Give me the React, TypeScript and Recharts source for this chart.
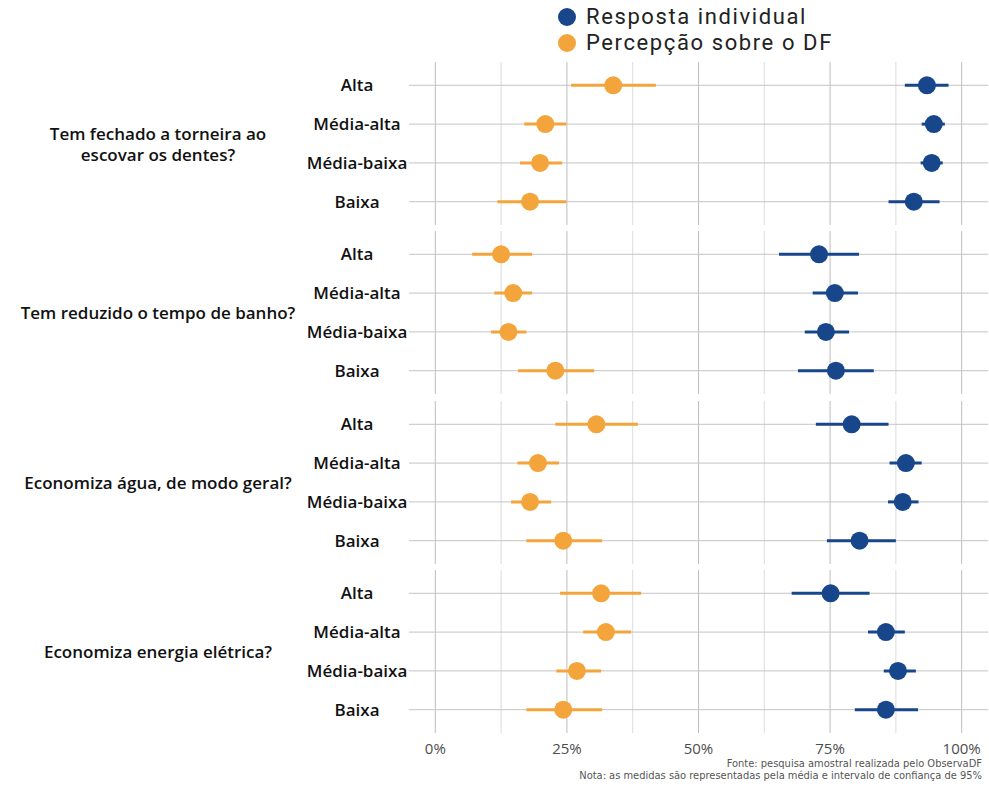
import React from "react";
import {
  ScatterChart,
  Scatter,
  XAxis,
  YAxis,
  ErrorBar,
  ReferenceLine,
} from "recharts";

const categories = ["Alta", "Média-alta", "Média-baixa", "Baixa"];
const questions = [
  ["Tem fechado a torneira ao", "escovar os dentes?"],
  ["Tem reduzido o tempo de banho?"],
  ["Economiza água, de modo geral?"],
  ["Economiza energia elétrica?"],
];
const xTicks = [0, 25, 50, 75, 100];
const xMinor = [12.5, 37.5, 62.5, 87.5];

// Resposta individual (mean, low, high) per question, per category
const individualMean = [
  [93.4, 94.7, 94.3, 90.9],
  [72.9, 75.9, 74.2, 76.1],
  [79.1, 89.4, 88.8, 80.6],
  [75.1, 85.6, 87.9, 85.6],
];
const individualLow = [
  [89.2, 92.4, 92.2, 86.1],
  [65.3, 71.7, 70.2, 68.9],
  [72.3, 86.3, 86.0, 74.4],
  [67.7, 82.2, 85.2, 79.7],
];
const individualHigh = [
  [97.5, 96.8, 96.4, 95.8],
  [80.5, 80.3, 78.6, 83.3],
  [86.1, 92.4, 91.8, 87.5],
  [82.5, 89.2, 91.3, 91.7],
];

// Percepção sobre o DF
const perceptionMean = [
  [33.8, 20.9, 19.9, 18.0],
  [12.5, 14.8, 13.9, 22.8],
  [30.6, 19.5, 18.0, 24.3],
  [31.5, 32.4, 26.9, 24.3],
];
const perceptionLow = [
  [25.8, 16.9, 16.1, 11.8],
  [7.0, 11.2, 10.6, 15.7],
  [22.8, 15.6, 14.4, 17.3],
  [23.7, 28.1, 23.0, 17.3],
];
const perceptionHigh = [
  [41.9, 24.9, 24.1, 24.9],
  [18.4, 18.4, 17.3, 30.2],
  [38.5, 23.5, 22.0, 31.7],
  [39.1, 37.2, 31.5, 31.7],
];

const BLUE = "#17468a";
const ORANGE = "#f3a43b";
const FONT = "'Open Sans', 'Noto Sans', sans-serif";

const PANEL_TOPS = [62, 231, 401, 570];
const PANEL_H = 163;

function buildRows(mean: number[][], low: number[][], high: number[][], q: number) {
  return categories.map((cat, i) => ({
    cat,
    y: i + 1,
    x: mean[q][i],
    err: [mean[q][i] - low[q][i], high[q][i] - mean[q][i]],
  }));
}

const RowTick = (props: any) => {
  const { y, payload } = props;
  return (
    <text
      x={357}
      y={y}
      dy={6}
      textAnchor="middle"
      fill="#111"
      fontSize={17}
      fontWeight={600}
      fontFamily={FONT}
    >
      {categories[payload.value - 1]}
    </text>
  );
};

const dot = (color: string) => (props: any) =>
  <circle cx={props.cx} cy={props.cy} r={9} fill={color} />;

function Panel({ q, last }: { q: number; last: boolean }) {
  const ind = buildRows(individualMean, individualLow, individualHigh, q);
  const per = buildRows(perceptionMean, perceptionLow, perceptionHigh, q);
  return (
    <ScatterChart
      width={989}
      height={PANEL_H + (last ? 28 : 0)}
      margin={{ top: 0, right: 1, bottom: 0, left: 0 }}
    >
      <XAxis
        type="number"
        dataKey="x"
        domain={[-5, 105]}
        ticks={xTicks}
        allowDataOverflow
        hide={!last}
        height={28}
        axisLine={false}
        tickLine={false}
        tickMargin={4}
        tickFormatter={(v) => `${v}%`}
        tick={{ fill: "#4d4d4d", fontSize: 15, fontFamily: FONT }}
      />
      <YAxis
        type="number"
        dataKey="y"
        domain={[0.4, 4.6]}
        ticks={[1, 2, 3, 4]}
        reversed
        width={409}
        axisLine={false}
        tickLine={false}
        tick={<RowTick />}
      />
      {xMinor.map((v) => (
        <ReferenceLine key={`m${v}`} x={v} stroke="#dcdcdc" strokeWidth={1} />
      ))}
      {xTicks.map((v) => (
        <ReferenceLine key={`M${v}`} x={v} stroke="#bdbdbd" strokeWidth={1} />
      ))}
      {categories.map((c, i) => (
        <ReferenceLine key={c} y={i + 1} stroke="#c4c4c4" strokeWidth={1} />
      ))}
      <Scatter data={per} isAnimationActive={false} shape={dot(ORANGE)}>
        <ErrorBar dataKey="err" direction="x" width={0} stroke={ORANGE} strokeWidth={3} />
      </Scatter>
      <Scatter data={ind} isAnimationActive={false} shape={dot(BLUE)}>
        <ErrorBar dataKey="err" direction="x" width={0} stroke={BLUE} strokeWidth={3} />
      </Scatter>
    </ScatterChart>
  );
}

const legendItems = [
  { label: "Resposta individual", color: BLUE },
  { label: "Percepção sobre o DF", color: ORANGE },
];

export default function App() {
  return (
    <div
      style={{
        position: "absolute",
        left: 0,
        top: 0,
        width: 989,
        height: 789,
        background: "#fff",
        fontFamily: FONT,
      }}
    >
      {legendItems.map((it, i) => (
        <div
          key={it.label}
          style={{
            position: "absolute",
            left: 558,
            top: 5 + i * 26,
            display: "flex",
            alignItems: "center",
            height: 24,
          }}
        >
          <span
            style={{
              width: 18,
              height: 18,
              borderRadius: 9,
              background: it.color,
              display: "inline-block",
              marginRight: 10,
            }}
          />
          <span
            style={{
              fontFamily: "Roboto, sans-serif",
              fontSize: 22,
              color: "#222",
              lineHeight: "24px",
              letterSpacing: 1.6,
            }}
          >
            {it.label}
          </span>
        </div>
      ))}
      {questions.map((lines, q) => (
        <React.Fragment key={q}>
          <div
            style={{
              position: "absolute",
              left: 0,
              width: 316,
              top: PANEL_TOPS[q],
              height: PANEL_H,
              display: "flex",
              flexDirection: "column",
              justifyContent: "center",
              alignItems: "center",
              textAlign: "center",
              fontSize: 17,
              fontWeight: 600,
              color: "#111",
              lineHeight: "21px",
            }}
          >
            {lines.map((l) => (
              <div key={l}>{l}</div>
            ))}
          </div>
          <div style={{ position: "absolute", left: 0, top: PANEL_TOPS[q] }}>
            <Panel q={q} last={q === questions.length - 1} />
          </div>
        </React.Fragment>
      ))}
      <div
        style={{
          position: "absolute",
          right: 7,
          top: 758,
          textAlign: "right",
          fontFamily: "'Liberation Sans Narrow', 'DejaVu Sans Condensed', sans-serif",
          fontSize: 11,
          color: "#555",
          lineHeight: "12px",
        }}
      >
        <div>Fonte: pesquisa amostral realizada pelo ObservaDF</div>
        <div>Nota: as medidas são representadas pela média e intervalo de confiança de 95%</div>
      </div>
    </div>
  );
}
